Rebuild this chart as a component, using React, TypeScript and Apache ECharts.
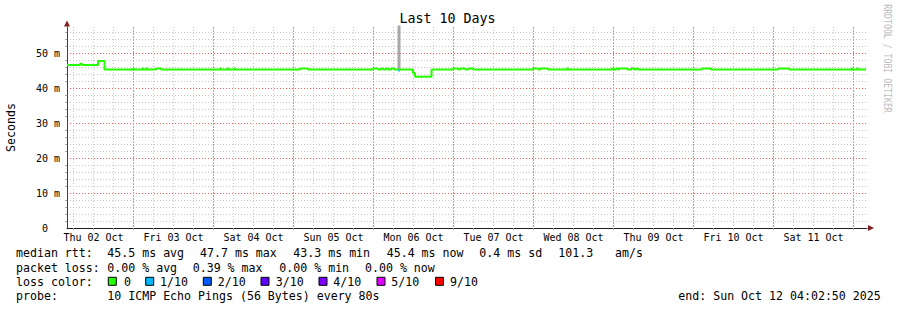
import React, { useEffect, useRef } from "react";
import * as echarts from "echarts";

// ---- time frame (hours since Thu 02 Oct 00:00) ----
const START_H = 4.047; // Thu 02 Oct 04:02:50
const END_H = 244.047; // Sun 12 Oct 04:02:50
const Y_MAX = 57.43;

const TITLE = "Last 10 Days";
const Y_NAME = "Seconds";
const WATERMARK = "RRDTOOL / TOBI OETIKER";

const dayLabels = [
  "Thu 02 Oct", "Fri 03 Oct", "Sat 04 Oct", "Sun 05 Oct", "Mon 06 Oct",
  "Tue 07 Oct", "Wed 08 Oct", "Thu 09 Oct", "Fri 10 Oct", "Sat 11 Oct",
];
const dayLabelHours = [12, 36, 60, 84, 108, 132, 156, 180, 204, 228];
const midnightHours = [24, 48, 72, 96, 120, 144, 168, 192, 216, 240];
const sixHourHours = [
  6, 12, 18, 30, 36, 42, 54, 60, 66, 78, 84, 90, 102, 108, 114, 126, 132, 138,
  150, 156, 162, 174, 180, 186, 198, 204, 210, 222, 228, 234,
];

const yLabelValues = [0, 10, 20, 30, 40, 50];
const yMajorValues = [10, 20, 30, 40, 50];
const yMinorValues = [
  2, 4, 6, 8, 12, 14, 16, 18, 22, 24, 26, 28, 32, 34, 36, 38, 42, 44, 46, 48,
  52, 54, 56,
];

// ---- median RTT (ms), held from each time until the next ----
const medianTimes = [
  4.05, 7.95, 8.55, 13.35, 15.3, 23.85, 24.15, 26.7, 27.0, 27.9, 28.2, 30.75,
  32.25, 49.95, 50.25, 52.2, 52.5, 54.15, 54.45, 73.95, 76.35, 95.85, 97.35,
  98.3, 98.9, 99.8, 100.4, 101.3, 102.2, 107.85, 108.45, 113.4, 119.85, 121.4,
  122.0, 123.5, 124.4, 125.9, 143.85, 145.4, 146.0, 148.35, 154.05, 154.35,
  167.55, 168.2, 168.8, 169.4, 169.7, 172.1, 173.3, 174.2, 174.8, 175.35,
  194.55, 197.25, 217.35, 220.65, 239.4, 239.7, 241.05, 241.35, 243.75,
];
const medianValues = [
  46.6, 46.9, 46.6, 47.7, 45.3, 45.6, 45.3, 45.6, 45.3, 45.6, 45.3, 45.6,
  45.3, 45.6, 45.3, 45.6, 45.3, 45.6, 45.3, 45.6, 45.3, 45.6, 45.3,
  45.6, 45.3, 45.6, 45.3, 45.6, 45.3, 44.3, 43.2, 45.3, 45.6, 45.3,
  45.6, 45.3, 45.6, 45.3, 45.6, 45.3, 45.6, 45.3, 45.6, 45.3,
  45.6, 45.3, 45.6, 45.3, 45.6, 45.3, 45.6, 45.3, 45.6, 45.3,
  45.6, 45.3, 45.6, 45.3, 45.6, 45.3, 45.6, 45.3, 45.3,
];

// interval with 1/10 loss
const lossTimes = [103.4, 103.9];
const lossValues = [45.0, 45.0];

// smoke (spread of pings) spike
const smokeTimes = [103.65, 103.65];
const smokeValues = [45.3, 60];

// ---- legend texts ----
const statLabels = ["median rtt:", "packet loss:", "loss color:", "probe:"];
const rttStats = ["45.5 ms avg", "47.7 ms max", "43.3 ms min", "45.4 ms now", "0.4 ms sd", "101.3", "am/s"];
const lossStats = ["0.00 % avg", "0.39 % max", "0.00 % min", "0.00 % now"];
const lossColorLabels = ["0", "1/10", "2/10", "3/10", "4/10", "5/10", "9/10"];
const lossColors = ["#26ff00", "#00b8ff", "#0059ff", "#5e00ff", "#7e00ff", "#dd00ff", "#ff0000"];
const probeText = "10 ICMP Echo Pings (56 Bytes) every 80s";
const endText = "end: Sun Oct 12 04:02:50 2025";

// ---- layout (pixels) ----
const MONO = "DejaVu Sans Mono";
const rttX = [107.3, 200, 293.3, 386.7, 479.3, 558.3, 615];
const lossX = [107.3, 192.7, 279.3, 365];
const boxX = [108.3, 145.7, 203.3, 261, 319, 377, 435.5];
const boxLabelX = [124, 160, 217.7, 275.7, 333.3, 391.3, 450];
const rowY = [253.4, 267.6, 281.8, 296];

export default function App() {
  const ref = useRef<HTMLDivElement>(null);

  useEffect(() => {
    if (!ref.current) return;
    const chart = echarts.init(ref.current, null, { renderer: "svg" });

    const txt = (text: string, x: number, y: number, extra: any = {}) => ({
      type: "text",
      x,
      y,
      silent: true,
      style: {
        text,
        fill: "#000",
        font: `11.6px "${MONO}"`,
        textAlign: "left",
        textVerticalAlign: "middle",
        ...extra,
      },
    });

    const graphics: any[] = [];
    statLabels.forEach((s, i) => graphics.push(txt(s, 16, rowY[i])));
    rttStats.forEach((s, i) => graphics.push(txt(s, rttX[i], rowY[0])));
    lossStats.forEach((s, i) => graphics.push(txt(s, lossX[i], rowY[1])));
    lossColorLabels.forEach((s, i) => {
      graphics.push({
        type: "rect",
        silent: true,
        shape: { x: boxX[i], y: rowY[2] - 4.5, width: 8, height: 8 },
        style: { fill: lossColors[i], stroke: "#000", lineWidth: 1 },
      });
      graphics.push(txt(s, boxLabelX[i], rowY[2]));
    });
    graphics.push(txt(probeText, 107.3, rowY[3]));
    graphics.push(txt(endText, 678.3, rowY[3]));
    graphics.push(
      txt(TITLE, 447.5, 18.8, { font: `13.3px "${MONO}"`, textAlign: "center" })
    );
    graphics.push({
      type: "text",
      x: 10.5,
      y: 127.5,
      rotation: Math.PI / 2,
      silent: true,
      style: {
        text: Y_NAME,
        fill: "#000",
        font: `11.6px "${MONO}"`,
        textAlign: "center",
        textVerticalAlign: "middle",
      },
    });
    graphics.push({
      type: "text",
      x: 888,
      y: 58.5,
      rotation: -Math.PI / 2,
      scaleY: 1.3,
      silent: true,
      style: {
        text: WATERMARK,
        fill: "#bdbdbd",
        font: `8.2px "${MONO}"`,
        textAlign: "center",
        textVerticalAlign: "middle",
      },
    });
    // axis arrows
    graphics.push({
      type: "polygon",
      silent: true,
      shape: { points: [[868, 225], [874, 228], [868, 231]] },
      style: { fill: "#7f1f1f" },
    });
    graphics.push({
      type: "polygon",
      silent: true,
      shape: { points: [[64, 26.5], [67, 20.5], [70, 26.5]] },
      style: { fill: "#7f1f1f" },
    });

    chart.setOption({
      animation: false,
      backgroundColor: "#ffffff",
      grid: { left: 67, top: 27, width: 800, height: 201, outerBoundsMode: "none", containLabel: false },
      xAxis: [
        {
          type: "value",
          min: START_H,
          max: END_H,
          position: "bottom",
          axisLine: { show: true, lineStyle: { color: "#202020", width: 1 } },
          axisTick: { show: true, customValues: sixHourHours, length: 2, lineStyle: { color: "#aaa" } },
          axisLabel: {
            customValues: dayLabelHours,
            formatter: (v: number) => {
              const i = dayLabelHours.indexOf(Math.round(v));
              return i >= 0 ? dayLabels[i] : "";
            },
            margin: 4,
            fontFamily: MONO,
            fontSize: 10,
            color: "#000",
          },
          splitLine: { show: true, lineStyle: { color: "#c6c6c6", width: 1, type: [1, 2] } },
        },
        {
          type: "value",
          min: START_H,
          max: END_H,
          position: "bottom",
          axisLine: { show: false },
          axisLabel: { show: false },
          axisTick: { show: true, customValues: midnightHours, length: 2, lineStyle: { color: "#f88" } },
          splitLine: { show: true, lineStyle: { color: "#ff8282", width: 1, type: [2, 1] } },
        },
      ],
      yAxis: [
        {
          type: "value",
          min: 0,
          max: Y_MAX,
          position: "left",
          axisLine: { show: true, lineStyle: { color: "#404040", width: 1 } },
          axisTick: { show: true, customValues: yMinorValues, length: 2, lineStyle: { color: "#aaa" } },
          axisLabel: {
            customValues: yLabelValues,
            formatter: (v: number) => (v === 0 ? "{z|0}" : `${v} m`),
            rich: { z: { fontFamily: MONO, fontSize: 10, color: "#000", padding: [0, 12, 0, 0] } },
            margin: 7,
            fontFamily: MONO,
            fontSize: 10,
            color: "#000",
          },
          splitLine: { show: true, lineStyle: { color: "#c6c6c6", width: 1, type: [1, 2] } },
        },
        {
          type: "value",
          min: 0,
          max: Y_MAX,
          position: "left",
          axisLine: { show: false },
          axisLabel: { show: false },
          axisTick: { show: false, customValues: yMajorValues },
          splitLine: { show: true, lineStyle: { color: "#ff5c5c", width: 1, type: [1, 2] } },
        },
      ],
      series: [
        {
          type: "line",
          name: "smoke",
          data: smokeTimes.map((t, i) => [t, smokeValues[i]]),
          symbol: "none",
          silent: true,
          lineStyle: { color: "#a8a8a8", width: 3 },
          z: 3,
        },
        {
          type: "line",
          name: "median rtt",
          data: medianTimes.map((t, i) => [t, medianValues[i]]),
          step: "end",
          symbol: "none",
          silent: true,
          lineStyle: { color: "#26ff00", width: 2 },
          z: 4,
        },
        {
          type: "line",
          name: "loss 1/10",
          data: lossTimes.map((t, i) => [t, lossValues[i]]),
          symbol: "none",
          silent: true,
          lineStyle: { color: "#00b8ff", width: 2 },
          z: 5,
        },
      ],
      graphic: graphics,
    });

    return () => chart.dispose();
  }, []);

  return (
    <div
      ref={ref}
      style={{ position: "absolute", left: 0, top: 0, width: 897, height: 310 }}
    />
  );
}
